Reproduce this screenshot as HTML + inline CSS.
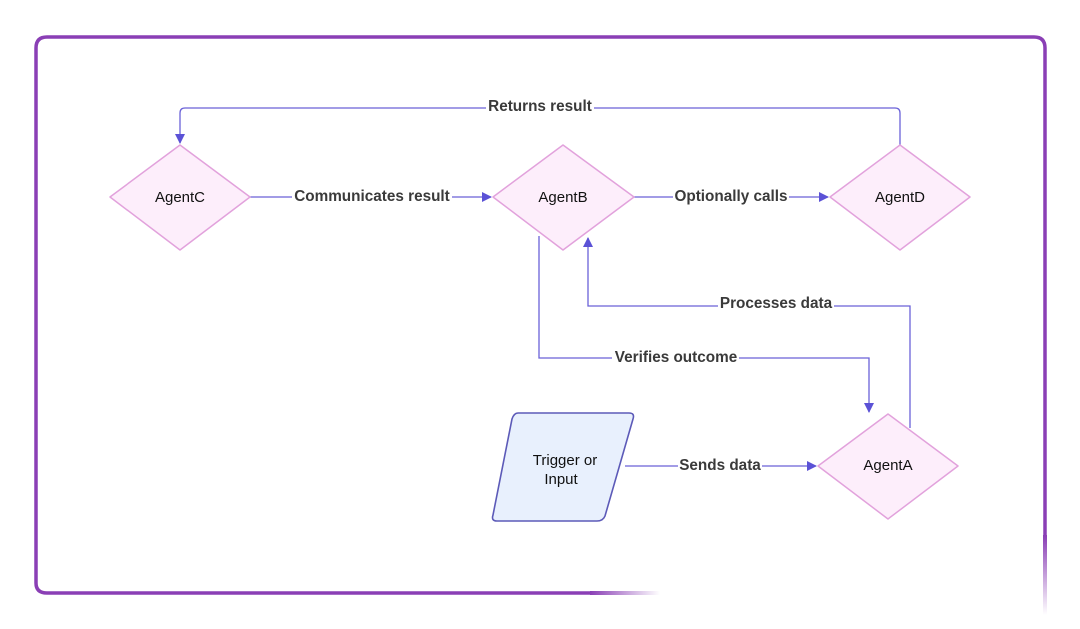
<!DOCTYPE html>
<html><head><style>
html,body{margin:0;padding:0;background:#fff;}
svg{display:block;}
text{font-family:"Liberation Sans",sans-serif;}
</style></head><body>
<svg width="1080" height="629" viewBox="0 0 1080 629">
<defs>
<linearGradient id="fb" x1="0" x2="1" y1="0" y2="0">
<stop offset="0" stop-color="#8a3fb5"/><stop offset="1" stop-color="#8a3fb5" stop-opacity="0"/></linearGradient>
<linearGradient id="fr" x1="0" x2="0" y1="0" y2="1">
<stop offset="0" stop-color="#8a3fb5"/><stop offset="1" stop-color="#8a3fb5" stop-opacity="0"/></linearGradient>
<marker id="ar" markerWidth="10" markerHeight="10" refX="9" refY="5" orient="auto" markerUnits="userSpaceOnUse">
<path d="M0,0 L10,5 L0,10 z" fill="#5b52d6"/></marker>
</defs>
<path d="M36,520 V48 Q36,37 47,37 H1034 Q1045,37 1045,48 V535" fill="none" stroke="#8a3fb5" stroke-width="3.5"/>
<path d="M36,520 V583 Q36,593 47,593 H590" fill="none" stroke="#8a3fb5" stroke-width="3.5"/>
<rect x="590" y="591" width="70" height="4" fill="url(#fb)"/>
<rect x="1043" y="535" width="4" height="80" fill="url(#fr)"/>
<g fill="none" stroke="#6a62d8" stroke-width="1.3">
<path d="M900,145 V113 Q900,108 895,108 H185 Q180,108 180,113 V143" marker-end="url(#ar)"/>
<path d="M250,197 H491" marker-end="url(#ar)"/>
<path d="M634,197 H828" marker-end="url(#ar)"/>
<path d="M539,236 V358 H869 V412" marker-end="url(#ar)"/>
<path d="M910,428 V306 H588 V238" marker-end="url(#ar)"/>
<path d="M625,466 H816" marker-end="url(#ar)"/>
</g>
<g font-size="15.3" font-weight="bold" fill="#3a3a3a" text-anchor="middle">
<rect x="486" y="97" width="108" height="18" fill="#fff"/><text x="540" y="111">Returns result</text>
<rect x="292" y="188" width="160" height="18" fill="#fff"/><text x="372" y="201">Communicates result</text>
<rect x="673" y="188" width="116" height="18" fill="#fff"/><text x="731" y="201">Optionally calls</text>
<rect x="612" y="349" width="127" height="18" fill="#fff"/><text x="676" y="362">Verifies outcome</text>
<rect x="718" y="295" width="116" height="18" fill="#fff"/><text x="776" y="308">Processes data</text>
<rect x="678" y="457" width="84" height="18" fill="#fff"/><text x="720" y="470">Sends data</text>
</g>
<g fill="#fdeefb" stroke="#e2a2dc" stroke-width="1.5" stroke-linejoin="round">
<polygon points="180,145 250,197 180,250 110,197"/>
<polygon points="563,145 634,197 563,250 493,197"/>
<polygon points="900,145 970,197 900,250 830,197"/>
<polygon points="888,414 958,466 888,519 818,466"/>
</g>
<path d="M518,413 H629 Q635,413 633,419 L605,516 Q603,521 597,521 H497 Q491,521 493,515 L512,419 Q514,413 518,413 z" fill="#e8f0fd" stroke="#5c5ab8" stroke-width="1.6"/>
<g font-size="15" fill="#111" text-anchor="middle">
<text x="180" y="202">AgentC</text>
<text x="563" y="202">AgentB</text>
<text x="900" y="202">AgentD</text>
<text x="888" y="470">AgentA</text>
<text x="565" y="465">Trigger or</text>
<text x="561" y="484">Input</text>
</g>
</svg>
</body></html>
